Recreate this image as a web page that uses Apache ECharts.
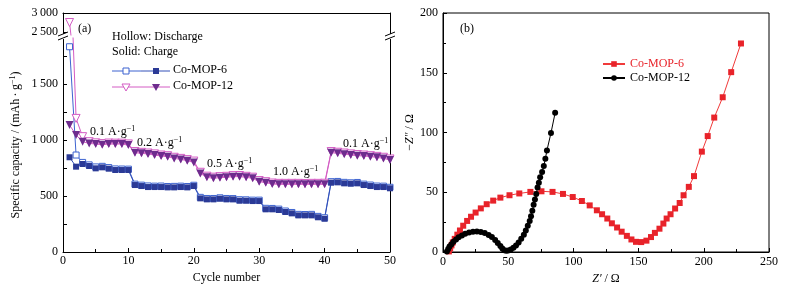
<!DOCTYPE html>
<html>
<head>
<meta charset="utf-8">
<script src="https://cdn.jsdelivr.net/npm/echarts@6/dist/echarts.min.js"></script>
<style>
html,body{margin:0;padding:0;background:#fff;}
#chart{width:785px;height:292px;}
</style>
</head>
<body>
<div id="chart"></div>
<script>
// (a) 倍率性能
var cycles = [1,2,3,4,5,6,7,8,9,10,11,12,13,14,15,16,17,18,19,20,21,22,23,24,25,26,27,28,29,30,31,32,33,34,35,36,37,38,39,40,41,42,43,44,45,46,47,48,49,50];
var mop6Discharge = [1833,866,800,778,760,765,754,742,741,740,606,597,590,588,589,585,586,588,585,596,488,478,478,484,478,477,467,466,463,463,390,389,383,366,353,336,335,336,318,306,628,630,622,618,621,606,598,589,588,578];
var mop6Charge = [846,762,786,768,747,756,744,732,732,732,598,589,580,580,580,577,577,580,577,589,479,470,470,476,470,470,458,458,455,455,381,381,375,357,345,327,327,327,310,297,619,622,613,610,613,598,589,580,580,569];
var mop12Discharge = [2750,1193,1030,985,975,968,973,972,972,965,897,890,884,876,866,860,846,836,825,812,712,677,668,673,676,682,683,676,668,638,628,616,613,613,613,613,612,613,613,614,897,891,884,876,870,866,860,854,846,831];
var mop12Charge = [1134,1045,985,970,964,958,964,964,964,955,887,881,875,866,857,851,836,827,815,800,702,667,658,664,667,673,673,667,658,628,619,607,604,604,604,604,604,604,604,604,887,881,874,866,860,857,851,845,836,821];
var yTicksLow = [0,500,1000,1500];
var yTicksHigh = [2500,3000];
var rateLabels = ['0.1','0.2','0.5','1.0','0.1'];

// (b) 交流阻抗 [Z', -Z'']
var eis6 = [[4.5,0.5],[5.5,3],[6.5,5.5],[7.5,8],[9,11],[11,14.5],[13,18],[15.5,22],[18.5,26],[21.5,29.5],[25,33],[29,36.5],[33.5,40],[38.5,43],[44,45.5],[51,47.5],[58.5,49],[67,50.3],[75.5,50.8],[84,50.3],[92,48.6],[99.5,46],[106.5,42.7],[112.5,39],[118,34.9],[122,31.6],[126,28],[129.5,24],[133.5,20.5],[137,17],[141,13.5],[144.5,10.5],[148,8.5],[152,8.3],[156,9.5],[159.5,12.5],[162.5,16],[166,19.5],[169,23.8],[171.5,28],[174.5,31.6],[178,36.4],[181.5,41],[184.5,47.5],[188.5,54.5],[192.5,63.5],[198.5,84],[203,97],[208,112.5],[214.5,129.5],[221,150.5],[228.5,174.5]];
var eis12 = [[3,0.5],[4,2.5],[5,4.5],[6.5,6.5],[8,8.5],[10,10.5],[12,12.3],[14.5,13.8],[17,15.2],[20,16.3],[23,17],[26,17.2],[29,16.8],[32,15.8],[35,14.3],[37.5,12.5],[40,10],[42,7.5],[44,5],[45.5,3],[47,1.5],[48.5,1],[50,1.2],[52,2],[54,3.5],[56,5.5],[58,8],[60,11],[62,14.5],[63.5,18],[65,22],[66.5,26],[67.5,30],[68.5,34.5],[69.5,39.5],[70.5,44],[71.5,48.5],[72.5,54],[73.5,58],[74.5,62.5],[76,67],[77.3,72],[78.5,78],[79.7,85],[82.8,99.6],[86,116.5]];

var FONT = 'Liberation Serif';
var C6D = '#3d63d0', C6C = '#2b3a96', C6L = '#3350b8', C12D = '#d45cc4', C12C = '#6e2c8e';

function pairs(ys){
    return cycles.map(function(c,i){return [c, ys[i]];});
}
function thousands(v){
    if(v < 1000) return String(v);
    var r = String(v % 1000);
    while(r.length < 3) r = '0' + r;
    return Math.floor(v/1000) + '\u2009' + r;
}

var myChart = echarts.init(document.getElementById('chart'));

var blackLine = {show:true, lineStyle:{color:'#000', width:1}};
var noTick = {show:false};
var noLabel = {show:false};
var noSplit = {show:false};

var option = {
    animation:false,
    backgroundColor:'#fff',
    textStyle:{fontFamily:FONT},
    grid:[
        {left:63, width:327, top:38, height:214},   // (a) 下半段
        {left:63, width:327, top:13, height:22},    // (a) 断轴上半段
        {left:443, width:326, top:13, height:239, show:true, borderColor:'#000', borderWidth:1}
    ],
    xAxis:[
        {
            gridIndex:0, type:'value', min:0, max:50, interval:10,
            axisLine:blackLine, splitLine:noSplit,
            axisTick:{show:true, inside:true, length:4, lineStyle:{color:'#000'}},
            minorTick:{show:true, splitNumber:2, length:3, lineStyle:{color:'#000'}},
            axisLabel:{color:'#000', fontFamily:FONT, fontSize:12, margin:3},
            name:'Cycle number', nameLocation:'middle', nameGap:18,
            nameTextStyle:{color:'#000', fontFamily:FONT, fontSize:12}
        },
        {
            gridIndex:1, type:'value', min:0, max:50, position:'top',
            axisLine:blackLine, axisTick:noTick, axisLabel:noLabel, splitLine:noSplit
        },
        {
            gridIndex:2, type:'value', min:0, max:250, interval:50,
            axisLine:blackLine, splitLine:noSplit,
            axisTick:{show:true, inside:true, length:4, lineStyle:{color:'#000'}},
            minorTick:{show:true, splitNumber:2, length:3, lineStyle:{color:'#000'}},
            axisLabel:{color:'#000', fontFamily:FONT, fontSize:12, margin:4},
            name:'{i|Z\u2032} / \u03a9', nameLocation:'middle', nameGap:18,
            nameTextStyle:{color:'#000', fontFamily:FONT, fontSize:12,
                rich:{i:{fontStyle:'italic', fontFamily:FONT, fontSize:12}}}
        }
    ],
    yAxis:[
        {
            gridIndex:0, type:'value', min:0, max:1911,
            axisLine:blackLine, splitLine:noSplit,
            axisTick:{show:true, inside:true, length:4, lineStyle:{color:'#000'},
                customValues:[0,250,500,750,1000,1250,1500,1750]},
            axisLabel:{color:'#000', fontFamily:FONT, fontSize:12, margin:5,
                customValues:yTicksLow, formatter:thousands},
            name:'{a|Specific capacity / (mAh\u2009\u00b7\u2009g}{s|\u22121}{a|)}',
            nameLocation:'middle', nameGap:40,
            nameTextStyle:{color:'#000', fontFamily:FONT, fontSize:12,
                rich:{a:{fontFamily:FONT, fontSize:12, lineHeight:14, color:'#000'},
                      s:{fontFamily:FONT, fontSize:8, verticalAlign:'top', color:'#000'}}}
        },
        {
            gridIndex:0, type:'value', min:0, max:1911, position:'right',
            axisLine:blackLine, axisTick:noTick, axisLabel:noLabel, splitLine:noSplit
        },
        {
            gridIndex:1, type:'value', min:2421, max:3000,
            axisLine:blackLine, splitLine:noSplit,
            axisTick:{show:true, inside:true, length:4, lineStyle:{color:'#000'}, customValues:yTicksHigh},
            axisLabel:{color:'#000', fontFamily:FONT, fontSize:12, margin:5,
                customValues:yTicksHigh, formatter:thousands}
        },
        {
            gridIndex:1, type:'value', min:2421, max:3000, position:'right',
            axisLine:blackLine, axisTick:noTick, axisLabel:noLabel, splitLine:noSplit
        },
        {
            gridIndex:2, type:'value', min:0, max:200, interval:50,
            axisLine:blackLine, splitLine:noSplit,
            axisTick:{show:true, inside:true, length:4, lineStyle:{color:'#000'}},
            minorTick:{show:true, splitNumber:2, length:3, lineStyle:{color:'#000'}},
            axisLabel:{color:'#000', fontFamily:FONT, fontSize:12, margin:5},
            name:'\u2212{i|Z\u2033} / \u03a9', nameLocation:'middle', nameGap:27,
            nameTextStyle:{color:'#000', fontFamily:FONT, fontSize:12,
                rich:{i:{fontStyle:'italic', fontFamily:FONT, fontSize:12}}}
        }
    ],
    legend:{
        left:597, top:53, orient:'vertical', itemGap:2,
        itemWidth:22, itemHeight:7,
        textStyle:{fontFamily:FONT, fontSize:12, color:'#000'},
        data:[
            {name:'Co-MOP-6', textStyle:{color:'#e8232a'}},
            {name:'Co-MOP-12', textStyle:{color:'#000'}}
        ]
    },
    series:[
        {
            name:'6D', type:'line', xAxisIndex:0, yAxisIndex:0, data:pairs(mop6Discharge),
            symbol:'rect', symbolSize:6, lineStyle:{color:C6D, width:1},
            itemStyle:{color:'#fff', borderColor:C6D, borderWidth:1}
        },
        {
            name:'12D', type:'line', xAxisIndex:0, yAxisIndex:0, data:pairs(mop12Discharge),
            symbol:'triangle', symbolRotate:180, symbolSize:8, lineStyle:{color:C12D, width:1},
            itemStyle:{color:'#fff', borderColor:C12D, borderWidth:1}
        },
        {
            name:'12D-top', type:'line', xAxisIndex:1, yAxisIndex:2, data:pairs(mop12Discharge),
            symbol:'triangle', symbolRotate:180, symbolSize:8, lineStyle:{color:C12D, width:1},
            itemStyle:{color:'#fff', borderColor:C12D, borderWidth:1}
        },
        {
            name:'6C', type:'line', xAxisIndex:0, yAxisIndex:0, data:pairs(mop6Charge),
            symbol:'rect', symbolSize:6, lineStyle:{color:C6L, width:1},
            itemStyle:{color:C6C}
        },
        {
            name:'12C', type:'line', xAxisIndex:0, yAxisIndex:0, data:pairs(mop12Charge),
            symbol:'triangle', symbolRotate:180, symbolSize:8, lineStyle:{color:C12D, width:1},
            itemStyle:{color:C12C}
        },
        {
            name:'Co-MOP-6', type:'line', xAxisIndex:2, yAxisIndex:4, data:eis6,
            symbol:'rect', symbolSize:6, lineStyle:{color:'#f03a3a', width:1},
            itemStyle:{color:'#e8232a'}
        },
        {
            name:'Co-MOP-12', type:'line', xAxisIndex:2, yAxisIndex:4, data:eis12,
            symbol:'circle', symbolSize:6, lineStyle:{color:'#000', width:1},
            itemStyle:{color:'#000'}
        }
    ],
    graphic:[]
};

var g = option.graphic;
function txt(x, y, s, extra){
    var o = {type:'text', left:x, top:y, style:{text:s, fontFamily:FONT, fontSize:12, fill:'#000'}};
    if(extra) o.style.rich = extra;
    g.push(o);
}
var supRich = {n:{fontFamily:FONT, fontSize:12, fill:'#000', lineHeight:14},
               s:{fontFamily:FONT, fontSize:8, fill:'#000', verticalAlign:'top'}};
function rate(x, y, v){
    txt(x, y, '{n|' + v + ' A\u00b7g}{s|\u22121}', supRich);
}
txt(78, 23, '(a)');
txt(460, 23, '(b)');
txt(112, 31, 'Hollow: Discharge');
txt(112, 46, 'Solid: Charge');
txt(173, 64, 'Co-MOP-6');
txt(173, 80, 'Co-MOP-12');
rate(90, 125, rateLabels[0]);
rate(137, 136, rateLabels[1]);
rate(207, 157, rateLabels[2]);
rate(273, 165, rateLabels[3]);
rate(343, 137, rateLabels[4]);

// (a) 图例样式
function seg(x1, y1, x2, y2, c){
    g.push({type:'line', shape:{x1:x1, y1:y1, x2:x2, y2:y2}, style:{stroke:c, lineWidth:1}});
}
seg(112, 71, 141, 71, C6D); seg(141, 71, 170, 71, C6L);
g.push({type:'rect', shape:{x:123, y:68, width:6, height:6}, style:{fill:'#fff', stroke:C6D, lineWidth:1}});
g.push({type:'rect', shape:{x:153, y:68, width:6, height:6}, style:{fill:C6C}});
seg(112, 87, 141, 87, C12D); seg(141, 87, 170, 87, C12D);
g.push({type:'polygon', shape:{points:[[122,84],[130,84],[126,91]]}, style:{fill:'#fff', stroke:C12D, lineWidth:1}});
g.push({type:'polygon', shape:{points:[[152,84],[160,84],[156,91]]}, style:{fill:C12C}});

// 断轴标记
[63, 390].forEach(function(x){
    g.push({type:'rect', shape:{x:x-2, y:34, width:4, height:5}, style:{fill:'#fff'}, z:100});
    g.push({type:'line', shape:{x1:x-5, y1:36, x2:x+5, y2:32}, style:{stroke:'#000', lineWidth:1}, z:101});
    g.push({type:'line', shape:{x1:x-5, y1:40, x2:x+5, y2:36}, style:{stroke:'#000', lineWidth:1}, z:101});
});

myChart.setOption(option);
</script>
</body>
</html>
